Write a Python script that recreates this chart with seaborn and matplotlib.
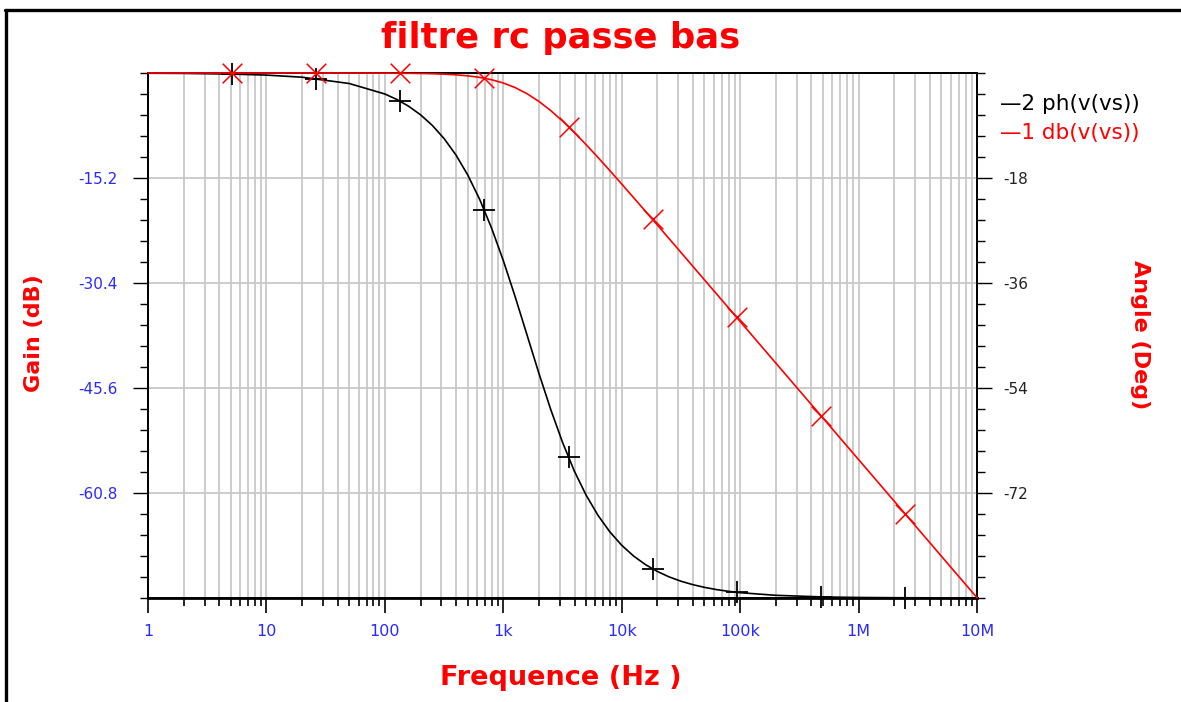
import numpy as np
import matplotlib
matplotlib.use('Agg')
import matplotlib.pyplot as plt
import matplotlib.ticker as mticker
from matplotlib.lines import Line2D
import seaborn as sns

# courbe (filtre RC, fc ~ 1.6 kHz)
freq = [1, 2, 5, 10, 20, 50, 100, 126, 158, 200, 251, 316, 398, 501, 631, 794,
        1000, 1259, 1585, 1995, 2512, 3162, 3981, 5012, 6310, 7943, 10000, 12589,
        15849, 19953, 25119, 31623, 39811, 50119, 63096, 79433, 100000, 200000,
        500000, 1e6, 2e6, 5e6, 1e7]
gain_db = [0.0, 0.0, -0.0004, -0.0002, -0.0007, -0.004, -0.017, -0.027, -0.043,
           -0.068, -0.107, -0.168, -0.263, -0.410, -0.634, -0.965, -1.445, -2.111,
           -2.993, -4.102, -5.430, -6.944, -8.608, -10.381, -12.232, -14.135,
           -16.073, -18.033, -20.008, -21.992, -23.981, -25.975, -27.971, -29.968,
           -31.966, -33.965, -35.965, -41.99, -49.94, -55.96, -61.98, -69.94, -75.96]
phase_deg = [-0.04, -0.07, -0.18, -0.36, -0.72, -1.80, -3.60, -4.53, -5.67, -7.16,
             -8.96, -11.23, -14.04, -17.48, -21.64, -26.52, -32.14, -38.34, -44.88,
             -51.43, -57.65, -63.30, -68.25, -72.39, -75.84, -78.67, -80.96, -82.80,
             -84.27, -85.44, -86.38, -87.12, -87.71, -88.18, -88.56, -88.85, -89.09,
             -89.54, -89.82, -89.91, -89.95, -89.98, -89.99]

# marqueurs
mk_freq = [5.13, 26.3, 135, 693, 3556, 18200, 93600, 480000, 2460000]
mk_gain = [0.0, -0.001, -0.031, -0.754, -7.776, -21.2, -35.39, -49.59, -63.78]
mk_phase = [-0.18, -0.95, -4.85, -23.53, -65.9, -85.0, -89.03, -89.81, -89.96]

gain_ticks = [-15.2, -30.4, -45.6, -60.8]
angle_ticks = [-18, -36, -54, -72]
x_ticks = [1, 10, 100, 1e3, 1e4, 1e5, 1e6, 1e7]
x_labels = ['1', '10', '100', '1k', '10k', '100k', '1M', '10M']

sns.set_style('white')
plt.rcParams['font.family'] = ['DejaVu Sans']

bleu = '#2a2aff'
rouge = '#ff0000'
gris = '#c8c8c8'

fig = plt.figure(figsize=(11.81, 7.02), dpi=100)
fig.patch.set_facecolor('white')
ax = fig.add_axes([148 / 1181, 1 - 598 / 702, (977 - 148) / 1181, (598 - 73) / 702])
ax2 = ax.twinx()
# gain au-dessus de la phase
ax.set_zorder(ax2.get_zorder() + 1)
ax.patch.set_visible(False)
ax2.patch.set_visible(False)

ax.set_xscale('log')
ax.set_xlim(1, 1e7)
ax.set_ylim(-76, 0)
ax2.set_ylim(-90, 0)

# grille sur l'axe du dessous
ax2.xaxis.set_visible(True)
ax2.xaxis.set_minor_locator(mticker.LogLocator(base=10, subs=np.arange(2, 10)))
ax2.grid(which='both', axis='x', color=gris, lw=1.3)
ax2.grid(which='major', axis='y', color=gris, lw=1.3)
ax2.set_axisbelow(True)

# courbes
sns.lineplot(x=freq, y=phase_deg, ax=ax2, color='black', lw=1.2, clip_on=False, zorder=3)
sns.scatterplot(x=mk_freq, y=mk_phase, ax=ax2, marker='+', s=260, color='black',
                linewidth=1.3, clip_on=False, zorder=4)
sns.lineplot(x=freq, y=gain_db, ax=ax, color=rouge, lw=1.2, clip_on=False, zorder=3)
sns.scatterplot(x=mk_freq, y=mk_gain, ax=ax, marker='x', s=200, color=rouge,
                linewidth=1.1, clip_on=False, zorder=4)

# axes
ax.set_xticks(x_ticks)
ax.set_xticklabels(x_labels)
ax.xaxis.set_minor_locator(mticker.LogLocator(base=10, subs=np.arange(2, 10)))
ax.xaxis.set_minor_formatter(mticker.NullFormatter())
ax.set_yticks(gain_ticks)
ax.set_yticklabels(['%.1f' % v for v in gain_ticks])
ax.yaxis.set_minor_locator(mticker.MultipleLocator(3.04))
ax2.set_yticks(angle_ticks)
ax2.set_yticklabels(['%d' % v for v in angle_ticks])
ax2.yaxis.set_minor_locator(mticker.MultipleLocator(3.6))

ax.tick_params(axis='x', which='major', direction='out', length=11, width=1.2,
               color='black', labelcolor=bleu, labelsize=11.5, pad=8, bottom=True, top=False)
ax.tick_params(axis='x', which='minor', direction='out', length=6, width=1.2,
               color='black', bottom=True, top=False)
ax.tick_params(axis='y', which='major', direction='out', length=11, width=1.0,
               color='black', labelcolor=bleu, labelsize=11, pad=11, left=True, right=False)
ax.tick_params(axis='y', which='minor', direction='out', length=6, width=1.0,
               color='black', left=True, right=False)
ax2.tick_params(axis='y', which='major', direction='out', length=11, width=1.0,
                color='black', labelcolor='#222222', labelsize=11, pad=8, right=True)
ax2.tick_params(axis='y', which='minor', direction='out', length=6, width=1.0,
                color='black', right=True)
ax2.tick_params(axis='x', which='both', bottom=False, top=False,
                labelbottom=False, labeltop=False)

for a in (ax, ax2):
    for s in a.spines.values():
        s.set_color('black')
        s.set_linewidth(1.3)
ax.spines['bottom'].set_linewidth(2.0)

# textes
titre_kw = dict(color=rouge, fontweight='bold', family='DejaVu Sans')
fig.text(0.475, 0.946, 'filtre rc passe bas', ha='center', va='center', fontsize=25.5, **titre_kw)
fig.text(0.475, 0.034, 'Frequence (Hz )', ha='center', va='center', fontsize=19.5, **titre_kw)
fig.text(0.029, 0.526, 'Gain (dB)', ha='center', va='center', rotation=90, fontsize=16, **titre_kw)
fig.text(0.965, 0.524, 'Angle (Deg)', ha='center', va='center', rotation=-90, fontsize=16, **titre_kw)

fig.text(0.8467, 0.852, '\u20142 ph(v(vs))', ha='left', va='center', fontsize=15.5, color='black')
fig.text(0.8467, 0.8105, '\u20141 db(v(vs))', ha='left', va='center', fontsize=15.5, color=rouge)

# cadre
fig.add_artist(Line2D([5 / 1181, 1], [1 - 10 / 702, 1 - 10 / 702], color='black', lw=2.4,
                      transform=fig.transFigure))
fig.add_artist(Line2D([6 / 1181, 6 / 1181], [0, 1 - 10 / 702], color='black', lw=2.4,
                      transform=fig.transFigure))

plt.savefig('out.png', dpi=100)
